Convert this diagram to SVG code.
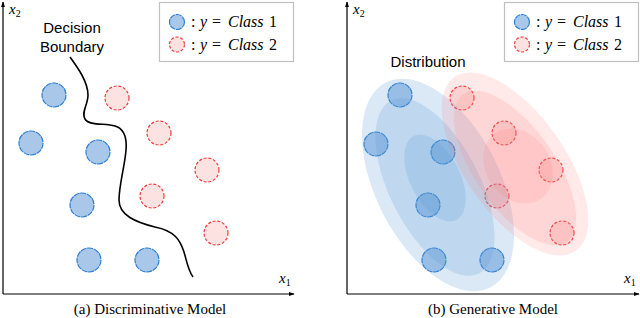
<svg xmlns="http://www.w3.org/2000/svg" width="640" height="318" viewBox="0 0 640 318">
<defs>
<marker id="arr" viewBox="0 0 10 10" refX="9" refY="5" markerWidth="6" markerHeight="6" orient="auto-start-reverse" markerUnits="userSpaceOnUse">
<path d="M0,1.5 L10,5 L0,8.5 z" fill="#000"/>
</marker>
<style>
.axis{stroke:#000;stroke-width:1.2;fill:none}
.c1{fill:#a9c8e9;stroke:#2e7fd2;stroke-width:1.2;stroke-dasharray:6 0.8}
.c2{fill:#fde2e2;stroke:#f03a3a;stroke-width:1.2;stroke-dasharray:3 1.8}
.leg{fill:#fff;stroke:#c0c0c0;stroke-width:1.2}
.math{font-family:"Liberation Serif","DejaVu Serif",serif;font-size:16px;fill:#000}
.ax{font-family:"Liberation Serif","DejaVu Serif",serif;font-size:15px;fill:#000;font-style:italic}
.it{font-style:italic}
.sans{font-family:"Liberation Sans",Arial,sans-serif;font-size:15px;fill:#000}
.cap{font-family:"Liberation Serif","Times New Roman",serif;font-size:15px;fill:#000}
.eb{fill:#5b9bd5;opacity:0.22}
.er{fill:#ff7a7a;opacity:0.17}
</style>
</defs>

<!-- Left panel: Discriminative -->
<g id="left-axes">
<line class="axis" x1="3" y1="294" x2="3" y2="2" marker-end="url(#arr)"/>
<line class="axis" x1="3" y1="294" x2="294" y2="294" marker-end="url(#arr)"/>
<text class="ax" x="9" y="14">x<tspan font-style="normal" font-size="10" dy="3">2</tspan></text>
<text class="ax" x="279" y="283">x<tspan font-style="normal" font-size="10" dy="3">1</tspan></text>
</g>

<g id="left-legend">
<rect class="leg" x="159.5" y="2.5" width="134" height="59"/>
<circle class="c1" cx="177" cy="22" r="7.5"/>
<circle class="c2" cx="177" cy="44.5" r="7.5"/>
<text class="math" y="27"><tspan x="191">:</tspan><tspan class="it" x="200">y</tspan><tspan x="212">=</tspan><tspan class="it" x="228">Class</tspan><tspan x="269">1</tspan></text>
<text class="math" y="50"><tspan x="191">:</tspan><tspan class="it" x="200">y</tspan><tspan x="212">=</tspan><tspan class="it" x="228">Class</tspan><tspan x="269">2</tspan></text>
</g>

<g id="decision-boundary-label">
<text class="sans" x="72" y="33" text-anchor="middle">Decision</text>
<text class="sans" x="72" y="52" text-anchor="middle">Boundary</text>
</g>

<g id="connectors">
<path d="M70,57 C78,68 88,82 88,95 C88,105 81,112 85,119 C89,126 105,123 115,126 C125,129 127,138 126,150 C125,165 119,185 119,200 C119,215 135,222 155,227 C175,231 180,240 184,252 C187,262 188,270 193,277" fill="none" stroke="#000" stroke-width="1.6"/>
</g>

<g id="left-class1">
<circle class="c1" cx="54" cy="95" r="12"/>
<circle class="c1" cx="31" cy="143" r="12"/>
<circle class="c1" cx="98" cy="152" r="12"/>
<circle class="c1" cx="82" cy="205" r="12"/>
<circle class="c1" cx="89" cy="260" r="12"/>
<circle class="c1" cx="147" cy="260" r="12"/>
</g>
<g id="left-class2">
<circle class="c2" cx="117" cy="98" r="12"/>
<circle class="c2" cx="159" cy="133" r="12"/>
<circle class="c2" cx="207" cy="170" r="12"/>
<circle class="c2" cx="152" cy="196" r="12"/>
<circle class="c2" cx="216" cy="233" r="12"/>
</g>

<text class="cap" x="150" y="314" text-anchor="middle">(a) Discriminative Model</text>

<!-- Right panel: Generative -->
<g id="right-axes">
<line class="axis" x1="347" y1="294" x2="347" y2="2" marker-end="url(#arr)"/>
<line class="axis" x1="347" y1="294" x2="639" y2="294" marker-end="url(#arr)"/>
<text class="ax" x="353" y="14">x<tspan font-style="normal" font-size="10" dy="3">2</tspan></text>
<text class="ax" x="624" y="283">x<tspan font-style="normal" font-size="10" dy="3">1</tspan></text>
</g>

<g id="right-legend">
<rect class="leg" x="504.5" y="2.5" width="134" height="59"/>
<circle class="c1" cx="522" cy="22" r="7.5"/>
<circle class="c2" cx="522" cy="44.5" r="7.5"/>
<text class="math" y="27"><tspan x="536">:</tspan><tspan class="it" x="545">y</tspan><tspan x="557">=</tspan><tspan class="it" x="573">Class</tspan><tspan x="614">1</tspan></text>
<text class="math" y="50"><tspan x="536">:</tspan><tspan class="it" x="545">y</tspan><tspan x="557">=</tspan><tspan class="it" x="573">Class</tspan><tspan x="614">2</tspan></text>
</g>

<text class="sans" x="428" y="67" text-anchor="middle">Distribution</text>

<g id="right-class1">
<circle class="c1" cx="400" cy="95" r="12"/>
<circle class="c1" cx="376" cy="144" r="12"/>
<circle class="c1" cx="443" cy="152" r="12"/>
<circle class="c1" cx="428" cy="205" r="12"/>
<circle class="c1" cx="434" cy="260" r="12"/>
<circle class="c1" cx="492" cy="260" r="12"/>
</g>
<g id="right-class2">
<circle class="c2" cx="462" cy="98" r="12"/>
<circle class="c2" cx="504" cy="133" r="12"/>
<circle class="c2" cx="551" cy="170" r="12"/>
<circle class="c2" cx="497" cy="196" r="12"/>
<circle class="c2" cx="562" cy="233" r="12"/>
</g>

<g id="blue-distribution">
<ellipse class="eb" cx="438" cy="185" rx="62" ry="115" transform="rotate(-27 438 185)"/>
<ellipse class="eb" cx="435" cy="187" rx="45" ry="97" transform="rotate(-27 435 187)"/>
<ellipse class="eb" cx="435" cy="178" rx="25" ry="47" transform="rotate(-27 435 178)"/>
</g>
<g id="red-distribution">
<ellipse class="er" cx="515" cy="164" rx="50" ry="106" transform="rotate(-35 515 164)"/>
<ellipse class="er" cx="515" cy="168" rx="40" ry="90" transform="rotate(-35 515 168)"/>
<ellipse class="er" cx="518" cy="166" rx="32" ry="40" transform="rotate(-35 518 166)"/>
</g>

<text class="cap" x="493" y="314" text-anchor="middle">(b) Generative Model</text>
</svg>
